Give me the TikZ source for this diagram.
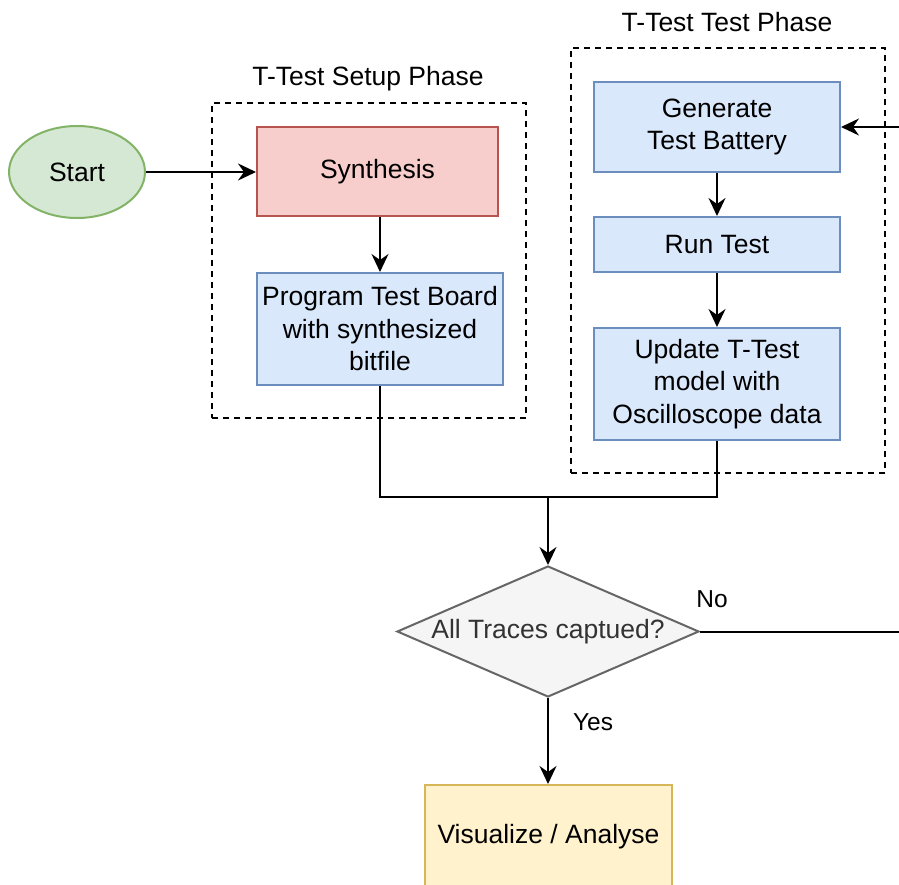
\documentclass[tikz,border=0pt]{standalone}
\usepackage{fontspec}
\setmainfont{Liberation Sans}
\usetikzlibrary{arrows.meta,shapes.geometric}

\definecolor{greenF}{HTML}{D5E8D4}
\definecolor{greenD}{HTML}{82B366}
\definecolor{redF}{HTML}{F8CECC}
\definecolor{redD}{HTML}{B85450}
\definecolor{blueF}{HTML}{DAE8FC}
\definecolor{blueD}{HTML}{6C8EBF}
\definecolor{greyF}{HTML}{F5F5F5}
\definecolor{greyD}{HTML}{666666}
\definecolor{greyT}{HTML}{333333}
\definecolor{yellowF}{HTML}{FFF2CC}
\definecolor{yellowD}{HTML}{D6B656}

\begin{document}
\begin{tikzpicture}[x=1pt,y=-1pt,
  txt/.style={font=\fontsize{26.5}{32.5}\selectfont},
  smalltxt/.style={font=\fontsize{24.5}{29}\selectfont},
  box/.style={draw, line width=2pt, rectangle, inner sep=0pt, align=center, txt},
  bluebox/.style={box, fill=blueF, draw=blueD},
  phase/.style={draw, line width=2pt, dash pattern=on 6pt off 5pt, rectangle, inner sep=0pt},
  link/.style={line width=2pt},
  flow/.style={link, -{Stealth[length=18pt,width=17pt,inset=6pt]}}
]
\useasboundingbox (0,0) rectangle (899,885);
\clip (0,0) rectangle (899,885);

% phase containers
\node[phase, minimum width=314pt, minimum height=315pt] (setupbox) at (369,260.5) {};
\node[phase, minimum width=314pt, minimum height=425pt] (testbox) at (728,260.5) {};
\node[txt] (setuplbl) at (368,79) {T-Test Setup Phase};
\node[txt] (testlbl) at (727,22) {T-Test Test Phase};

% steps
\node[ellipse, draw=greenD, fill=greenF, line width=2pt, inner sep=0pt,
      minimum width=136pt, minimum height=92pt, txt] (start) at (77,172) {Start};
\node[box, fill=redF, draw=redD, minimum width=241pt, minimum height=89pt] (synth) at (377.5,171.5) {Synthesis};
\node[bluebox, minimum width=246pt, minimum height=112pt] (prog) at (380,329)
  {Program Test Board\\with synthesized\\bitfile};
\node[bluebox, minimum width=246pt, minimum height=90pt] (gen) at (717,127)
  {Generate\\Test Battery};
\node[bluebox, minimum width=246pt, minimum height=55pt] (run) at (717,244.5) {Run Test};
\node[bluebox, minimum width=246pt, minimum height=112pt] (update) at (717,384)
  {Update T-Test\\model with\\Oscilloscope data};
\node[diamond, aspect=2.3, draw=greyD, fill=greyF, line width=2pt, inner sep=0pt,
      minimum width=302pt, minimum height=131pt, txt, text=greyT] (check) at (548,631.5)
  {All Traces captued?};
\node[box, fill=yellowF, draw=yellowD, minimum width=247pt, minimum height=104pt] (vis) at (548.5,837)
  {Visualize / Analyse};

% connectors
\coordinate (merge) at (548,497);
\coordinate (noend) at (905,631.5);
\coordinate (loopin) at (905,127);

\draw[flow] (start.east) -- (start.east -| synth.west);
\draw[flow] (synth.south -| prog.north) -- (prog.north);
\draw[link] (prog.south) |- (merge);
\draw[link] (update.south) |- (merge);
\draw[flow] (merge) -- (check.north);
\draw[link] (check.east) -- (noend);
\draw[flow] (loopin) -- (gen.east);
\draw[flow] (gen) -- (run);
\draw[flow] (run) -- (update);
\draw[flow] (check.south) -- (check.south |- vis.north);

\node[smalltxt] (nolbl) at (712,599) {No};
\node[smalltxt] (yeslbl) at (593,722) {Yes};
\end{tikzpicture}
\end{document}
